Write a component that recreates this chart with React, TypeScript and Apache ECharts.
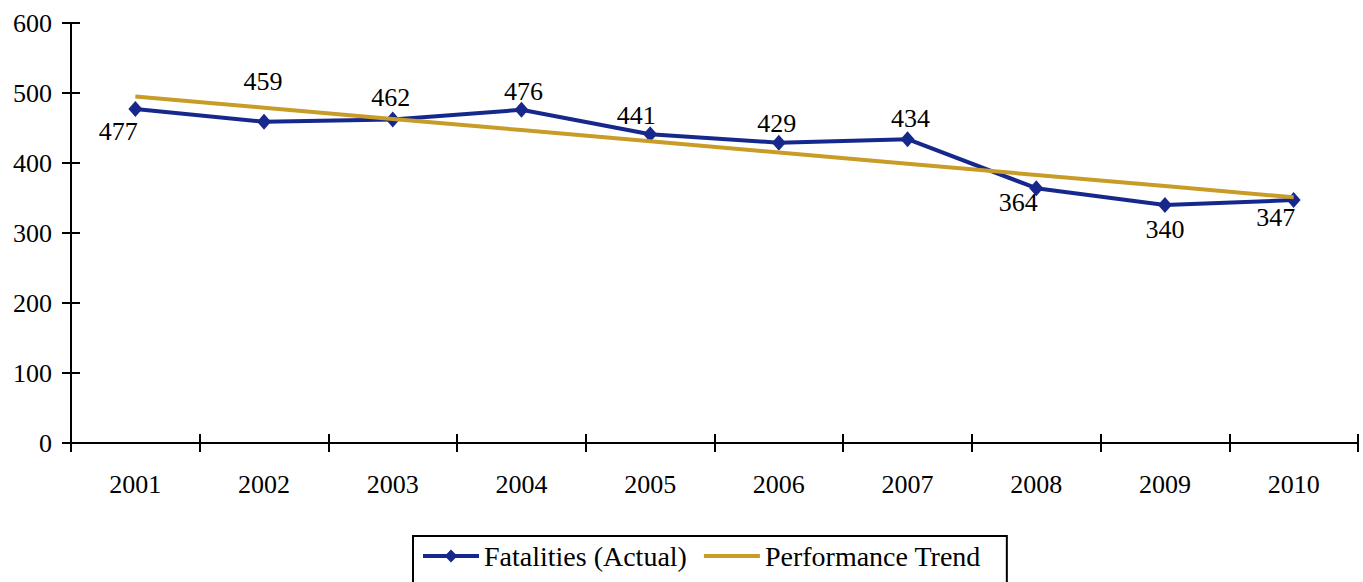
import React, { useEffect, useRef } from "react";
import * as echarts from "echarts";

const years = ["2001", "2002", "2003", "2004", "2005", "2006", "2007", "2008", "2009", "2010"];
const fatalities = [477, 459, 462, 476, 441, 429, 434, 364, 340, 347];
const trend = [495, 479, 463, 447, 431, 415, 399, 383, 367, 351];
const labelOffsets: [number, number][] = [
  [-17, 22], [-1, -40], [-2, -22], [2, -18], [-14, -19],
  [-2, -19], [3, -21], [-18, 14], [0, 24], [-18, 17],
];

const FONT = "Liberation Serif";
const BLUE = "#17288c";
const GOLD = "#c99c28";

export default function App() {
  const ref = useRef<HTMLDivElement>(null);
  useEffect(() => {
    if (!ref.current) return;
    const chart = echarts.init(ref.current, undefined, { renderer: "svg" });
    const yCommon = { type: "value", min: 0, max: 600, interval: 100, position: "left", splitLine: { show: false } };
    chart.setOption({
      animation: false,
      textStyle: { fontFamily: FONT },
      grid: { left: 71, right: 5, top: 23, bottom: 139 },
      legend: {
        left: 413,
        top: 536,
        itemWidth: 56,
        itemHeight: 16,
        itemGap: 15,
        borderColor: "#000",
        borderWidth: 2,
        padding: [6, 26, 30, 8],
        lineStyle: { width: 4 },
        textStyle: { fontFamily: FONT, fontSize: 28, color: "#000" },
        data: [
          { name: "Fatalities (Actual)" },
          { name: "Performance Trend", itemStyle: { opacity: 0 } },
        ],
      },
      xAxis: [
        {
          type: "category",
          data: years,
          boundaryGap: true,
          axisLine: { lineStyle: { color: "#000", width: 2 } },
          axisTick: { show: true, length: 9, lineStyle: { color: "#000", width: 2 } },
          axisLabel: { color: "#000", fontSize: 26, fontFamily: FONT, margin: 28 },
        },
        {
          type: "category",
          data: years,
          boundaryGap: true,
          position: "bottom",
          axisLine: { show: false },
          axisTick: { show: true, inside: true, length: 9, lineStyle: { color: "#000", width: 2 } },
          axisLabel: { show: false },
        },
      ],
      yAxis: [
        {
          ...yCommon,
          axisLine: { show: true, lineStyle: { color: "#000", width: 2 } },
          axisTick: { show: true, length: 9, lineStyle: { color: "#000", width: 2 } },
          axisLabel: { color: "#000", fontSize: 26, fontFamily: FONT, margin: 19 },
        },
        {
          ...yCommon,
          axisLine: { show: false },
          axisTick: { show: true, inside: true, length: 9, lineStyle: { color: "#000", width: 2 } },
          axisLabel: { show: false },
        },
      ],
      series: [
        {
          name: "Fatalities (Actual)",
          type: "line",
          data: fatalities.map((v, i) => ({
            value: v,
            label: {
              show: true,
              position: "inside",
              offset: labelOffsets[i],
              color: "#000",
              fontSize: 26,
              fontFamily: FONT,
            },
          })),
          symbol: "diamond",
          symbolSize: [14, 16],
          itemStyle: { color: BLUE },
          lineStyle: { color: BLUE, width: 4 },
          z: 2,
        },
        {
          name: "Performance Trend",
          type: "line",
          data: trend,
          symbol: "none",
          itemStyle: { color: GOLD },
          lineStyle: { color: GOLD, width: 4 },
          z: 3,
        },
      ],
    });
    return () => chart.dispose();
  }, []);
  return (
    <div
      ref={ref}
      style={{ position: "absolute", left: 0, top: 0, width: 1363, height: 582, background: "#fff" }}
    />
  );
}
